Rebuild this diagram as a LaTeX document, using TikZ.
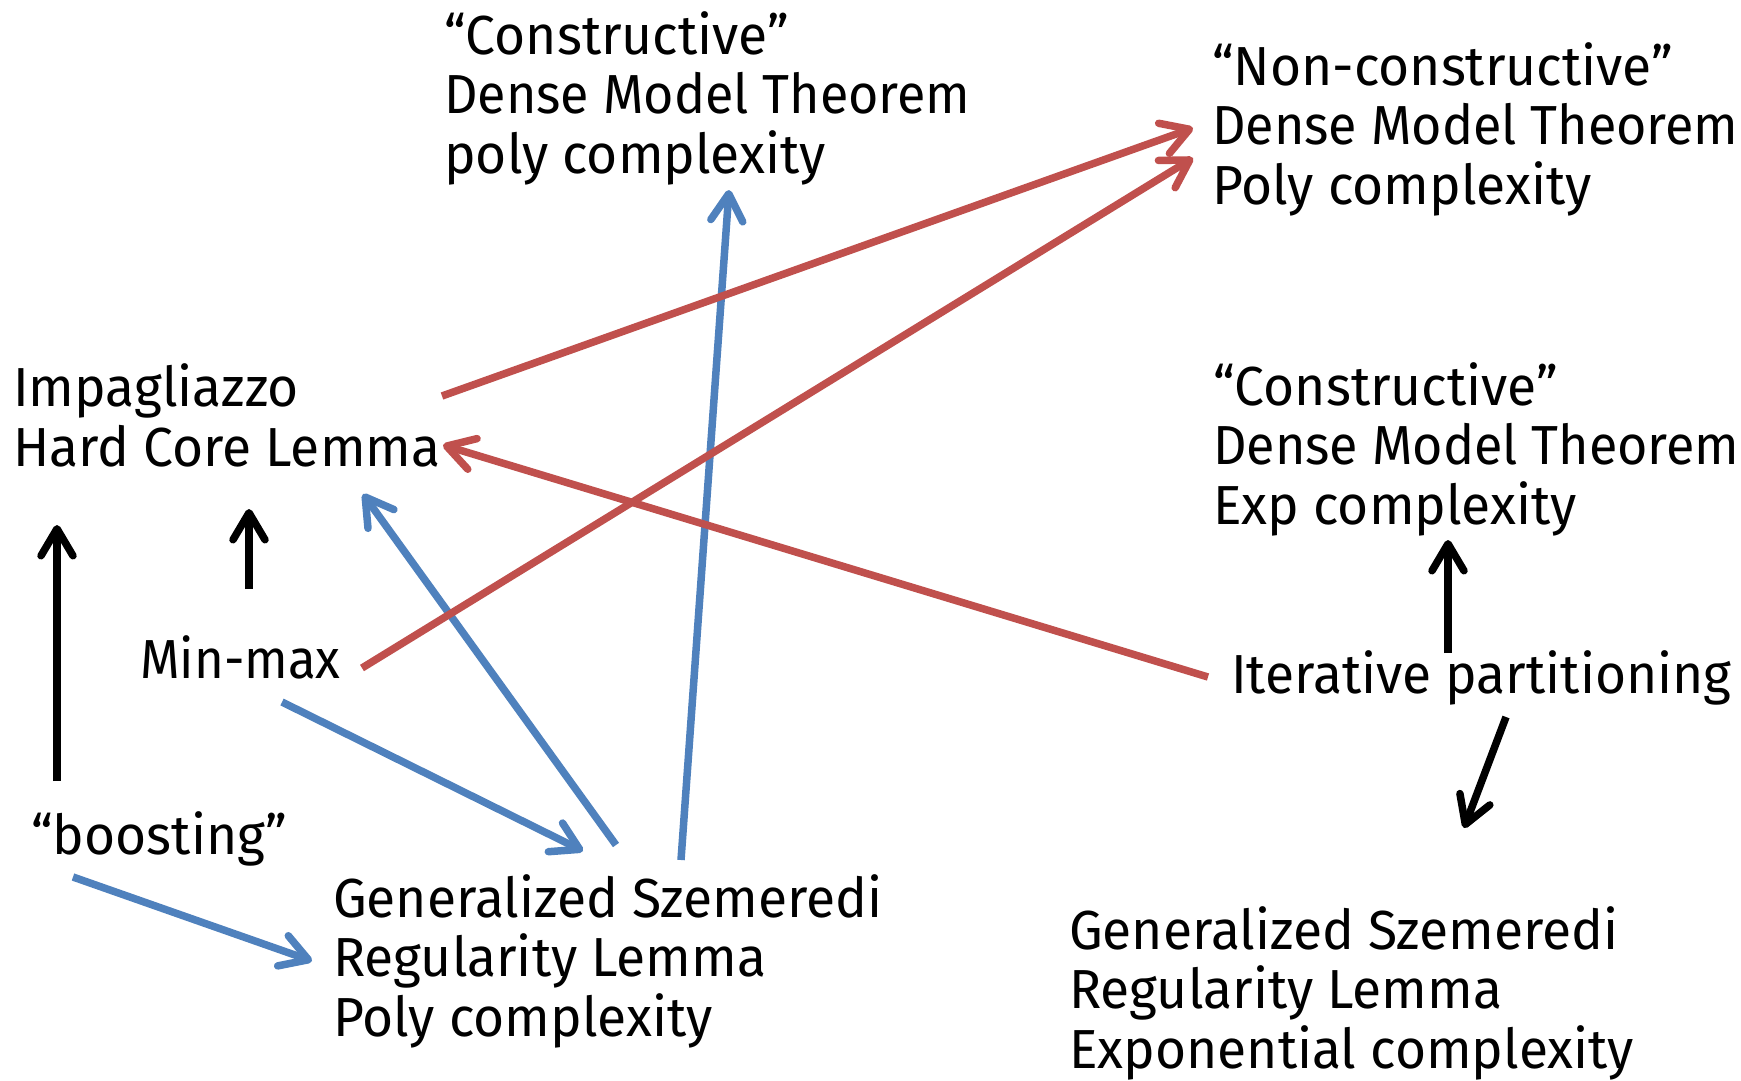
\documentclass[tikz,border=0pt]{standalone}
\usepackage{graphicx}
\usepackage{fontspec}
\setmainfont[FakeStretch=0.97]{Fira Sans}
\usetikzlibrary{arrows.meta}
\definecolor{linkblue}{RGB}{79,129,189}
\definecolor{linkred}{RGB}{192,80,77}
% slightly narrower setting for the longer phrases
\newcommand\dmtline{\scalebox{0.976}[1]{Dense Model Theorem}}
\newcommand\minmaxword{\scalebox{0.955}[1]{Min-max}}
\begin{document}
\begin{tikzpicture}[x=1pt,y=-1pt,
  % a multi-line label sits on the baseline of its last line
  lbl/.style={anchor=base west,inner sep=0pt,align=left,
    font=\fontsize{55}{59.5}\selectfont},
  link/.style={line width=7.5pt,
    -{Straight Barb[length=27pt,width=32pt,round]}},
  blacklink/.style={link,black},
  bluelink/.style={link,linkblue},
  redlink/.style={link,linkred}]
\useasboundingbox (0,0) rectangle (1741,1080);

% statements
\node[lbl] (cdp) at (444,173)  {“Constructive”\\\dmtline\\poly complexity};
\node[lbl] (ncp) at (1212,204) {“Non-constructive”\\\dmtline\\Poly complexity};
\node[lbl] (hc)  at (13,466)   {Impagliazzo\\Hard Core Lemma};
\node[lbl] (cde) at (1213,524) {“Constructive”\\\dmtline\\Exp complexity};
\node[lbl] (mm)  at (140,678)  {\minmaxword};
\node[lbl] (it)  at (1231,693) {Iterative partitioning};
\node[lbl] (bo)  at (31,854)   {“boosting”};
\node[lbl] (gsp) at (333,1036) {Generalized Szemeredi\\Regularity Lemma\\Poly complexity};
\node[lbl] (gse) at (1069,1068) {Generalized Szemeredi\\Regularity Lemma\\Exponential complexity};

% black implications
\draw[blacklink] ([shift={(26,-73)}]bo.base west) -- ([shift={(44,59)}]hc.base west);
\draw[blacklink] ([shift={(109,-89)}]mm.base west) -- ([shift={(236,43)}]hc.base west);
\draw[blacklink] ([shift={(217,-40)}]it.base west) -- ([shift={(235,16)}]cde.base west);
\draw[blacklink] ([shift={(275,24)}]it.base west) -- ([shift={(395,-240)}]gse.base west);

% blue implications
\draw[bluelink] ([shift={(42,23)}]bo.base west) -- ([shift={(-21,-75)}]gsp.base west);
\draw[bluelink] ([shift={(142,24)}]mm.base west) -- ([shift={(250,-185)}]gsp.base west);
\draw[bluelink] ([shift={(283,-191)}]gsp.base west) -- ([shift={(350,28)}]hc.base west);
\draw[bluelink] ([shift={(348,-176)}]gsp.base west) -- ([shift={(285,17)}]cdp.base west);

% red implications
\draw[redlink] ([shift={(429,-70)}]hc.base west) -- ([shift={(-19,-76)}]ncp.base west);
\draw[redlink] ([shift={(222,-10)}]mm.base west) -- ([shift={(-19,-46)}]ncp.base west);
\draw[redlink] ([shift={(-23,-16)}]it.base west) -- ([shift={(430,-21)}]hc.base west);
\end{tikzpicture}
\end{document}
